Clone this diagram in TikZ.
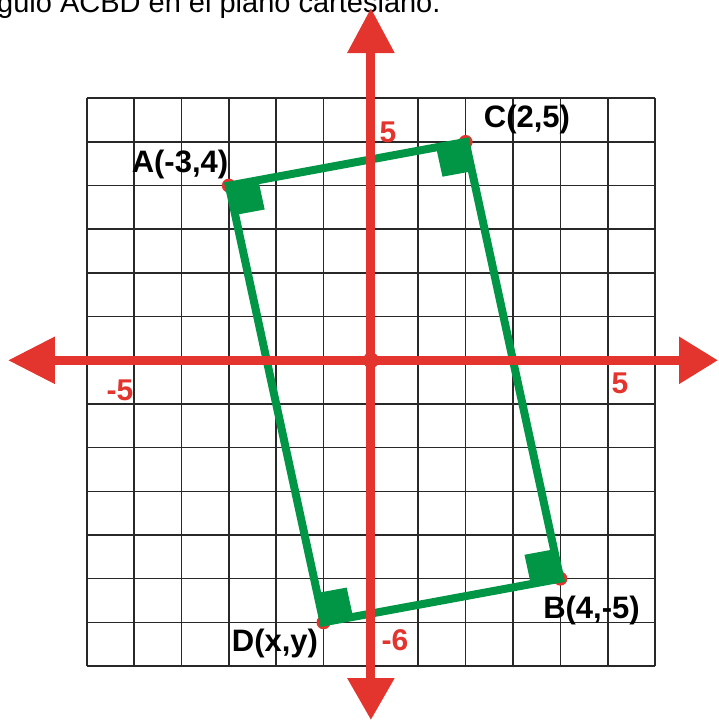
\documentclass[tikz,border=0pt]{standalone}
\usepackage{fontspec}
\setmainfont{Liberation Sans}
\usetikzlibrary{arrows.meta,calc}
\definecolor{axred}{RGB}{227,52,46}
\definecolor{rgreen}{RGB}{0,150,70}
\definecolor{gridc}{RGB}{40,40,40}
\tikzset{
  gridline/.style={draw=gridc, line width=1.6pt},
  axisline/.style={draw=axred, line width=9pt},
  rectline/.style={draw=rgreen, line width=8pt},
  rightmark/.style={fill=rgreen},
  vdot/.style={fill=axred},
  ptlabel/.style={font=\fontsize{31}{31}\selectfont\bfseries, text=black, anchor=base, inner sep=0pt},
  numlabel/.style={font=\fontsize{30}{30}\selectfont\bfseries, text=axred, anchor=base, inner sep=0pt},
  titletext/.style={font=\fontsize{29}{29}\selectfont, anchor=base west, inner sep=0pt}
}
\begin{document}
\begin{tikzpicture}[x=1pt,y=-1pt]
\useasboundingbox (0,0) rectangle (719,721);
\begin{scope}
  \clip (0,0) rectangle (719,721);
  \node[titletext] (title) at (-3,12) {gulo ACBD en el plano cartesiano.};
\end{scope}

\begin{scope}[shift={(370.9,360.3)}, x=47.36pt, y=43.67pt]
  % grid
  \foreach \i in {-6,...,6} \draw[gridline] (\i,-7) -- (\i,6);
  \foreach \j in {-7,...,6} \draw[gridline] (-6,\j) -- (6,\j);
  % points
  \coordinate (O) at (0,0);
  \coordinate (A) at (-3,4);
  \coordinate (C) at (2,5);
  \coordinate (B) at (4,-5);
  \coordinate (D) at (-1,-6);
  \coordinate (xl) at (-7.663,0);
  \coordinate (xr) at (7.329,0);
  \coordinate (yt) at (0,8.067);
  \coordinate (yb) at (0,-8.237);
  % vertex dots
  \foreach \p in {A,B,C,D} \fill[vdot] (\p) circle (7pt);
  % right-angle marks
  \foreach \p/\q/\r in {A/C/D, C/B/A, B/D/C, D/A/B} {
    \coordinate (\p1) at ($(\p)!30pt!(\q)$);
    \coordinate (\p2) at ($(\p)!30pt!(\r)$);
    \coordinate (\p3) at ($(\p1)+(\p2)-(\p)$);
    \fill[rightmark] (\p) -- (\p1) -- (\p3) -- (\p2) -- cycle;
  }
  % rectangle
  \draw[rectline] (A) -- (C) -- (B) -- (D) -- cycle;
  % axes
  \draw[axisline, {Triangle[length=47pt,width=45pt]}-{Triangle[length=39pt,width=45pt]}] (xl) -- (xr);
  \draw[axisline, {Triangle[length=42pt,width=45pt]}-{Triangle[length=45pt,width=45pt]}] (yb) -- (yt);
  \fill[axred] (O) circle (8pt);
\end{scope}

\node[ptlabel] (lA) at (180,172) {A(-3,4)};
\node[ptlabel] (lC) at (527,127) {C(2,5)};
\node[ptlabel] (lB) at (591.5,618) {B(4,-5)};
\node[ptlabel] (lD) at (275,651.5) {D(x,y)};
\node[numlabel] (n5y) at (388,142) {5};
\node[numlabel] (nm5) at (120,400) {-5};
\node[numlabel] (n5x) at (620,393) {5};
\node[numlabel] (nm6) at (395,650.5) {-6};
\end{tikzpicture}
\end{document}
